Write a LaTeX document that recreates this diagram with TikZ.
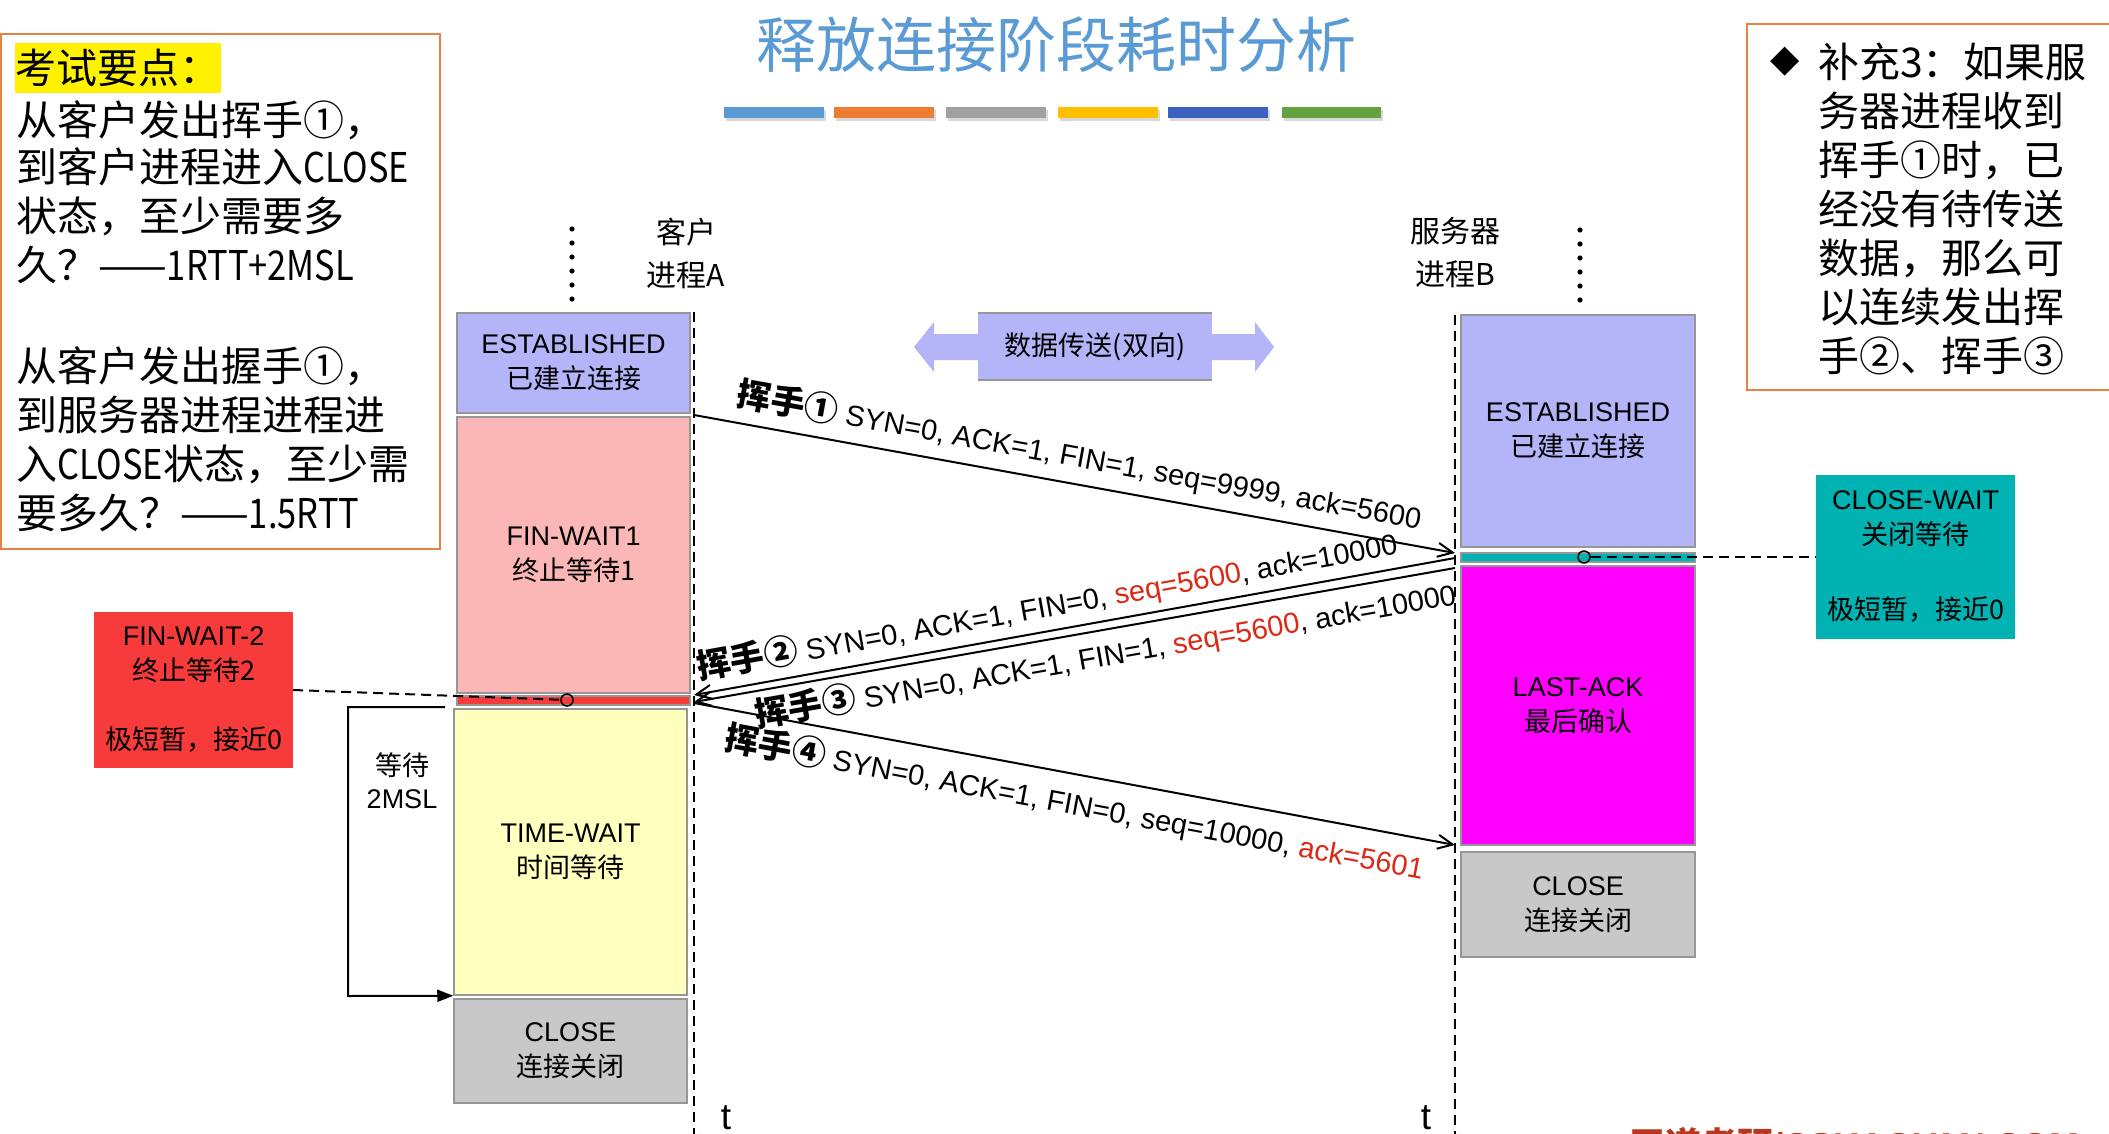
\documentclass[tikz,border=0pt]{standalone}
\usepackage{fontspec}
\setmainfont{Liberation Sans}
\newfontfamily\cjk{Noto Sans CJK SC}
\newfontfamily\symf{DejaVu Sans}
\usetikzlibrary{arrows.meta}
\definecolor{titleblue}{RGB}{91,155,213}
\definecolor{barA}{RGB}{91,155,213}
\definecolor{barB}{RGB}{237,125,49}
\definecolor{barC}{RGB}{160,160,160}
\definecolor{barD}{RGB}{255,192,0}
\definecolor{barE}{RGB}{58,98,192}
\definecolor{barF}{RGB}{98,163,64}
\definecolor{noteorange}{RGB}{230,130,70}
\definecolor{estab}{RGB}{180,180,248}
\definecolor{finwait}{RGB}{251,182,182}
\definecolor{timewait}{RGB}{255,255,190}
\definecolor{closegray}{RGB}{200,200,200}
\definecolor{lastack}{RGB}{255,0,255}
\definecolor{tealbox}{RGB}{0,178,178}
\definecolor{redbar}{RGB}{247,58,58}
\definecolor{msgred}{RGB}{220,40,20}
\definecolor{boxline}{RGB}{150,150,150}
\definecolor{wmred}{RGB}{185,55,30}
\newcommand\hwave[1]{{\cjk\bfseries\fontsize{34}{34}\selectfont 挥手#1}}
\newcommand\narrowlat[1]{\scalebox{0.84}[1]{#1}}
\begin{document}
\begin{tikzpicture}[x=1pt,y=-1pt,
  state/.style={draw=boxline, line width=1.5pt, inner sep=0pt, align=center, font=\fontsize{27}{35}\selectfont},
  timeline/.style={line width=2pt, dash pattern=on 10pt off 6pt, -{Straight Barb[length=6pt,width=12pt]}},
  msg/.style={line width=2pt, -{Straight Barb[length=15pt,width=14pt]}},
  lbl/.style={sloped, inner sep=0pt, font=\fontsize{29}{29}\selectfont},
  conn/.style={line width=2pt, dash pattern=on 10pt off 6pt},
  dotc/.style={circle, draw, line width=1.5pt, minimum size=12pt, inner sep=0pt},
  note/.style={anchor=west, inner sep=0pt, font=\cjk\fontsize{41}{41}\selectfont, text height=34pt, text depth=3pt},
  hdr/.style={align=center, inner sep=0pt, font=\cjk\fontsize{30}{43}\selectfont},
]
\useasboundingbox (0,0) rectangle (2109,1134);
\clip (0,0) rectangle (2109,1134);
\fill[white] (0,0) rectangle (2109,1134);

% title
\node[text=titleblue, font=\cjk\fontsize{60}{60}\selectfont, inner sep=0pt] (title) at (1056,45) {释放连接阶段耗时分析};
\foreach \xa/\xb/\c in {724/824/barA, 834/934/barB, 946/1046/barC, 1058/1158/barD, 1168/1268/barE, 1282/1381/barF} {
  \fill[black!15] (\xa+2,110) rectangle (\xb+2,121);
  \fill[\c] (\xa,107) rectangle (\xb,118);
}

% left note
\draw[noteorange, line width=2.5pt] (1,34) rectangle (440,549);
\node[fill=yellow, inner sep=0pt, minimum width=206pt, minimum height=50pt, font=\cjk\fontsize{41}{41}\selectfont] (kp) at (118,68) {考试要点：};
\foreach \n/\y/\t in {n1/120/{从客户发出挥手①，}, n2/167/{到客户进程进入\narrowlat{CLOSE}}, n3/216/{状态，至少需要多}, n4/265/{久？——\narrowlat{1RTT+2MSL}}, n5/366/{从客户发出握手①，}, n6/415/{到服务器进程进程进}, n7/464/{入\narrowlat{CLOSE}状态，至少需}, n8/513/{要多久？——\narrowlat{1.5RTT}}}
  \node[note] (\n) at (16,\y) {\t};

% right note
\draw[noteorange, line width=2.5pt] (1747,24) rectangle (2120,390);
\node[inner sep=0pt, font=\symf\fontsize{38}{38}\selectfont] (dia) at (1785,62) {◆};
\foreach \n/\y/\t in {r1/62/{补充3：如果服}, r2/111/{务器进程收到}, r3/160/{挥手①时，已}, r4/209/{经没有待传送}, r5/258/{数据，那么可}, r6/307/{以连续发出挥}, r7/356/{手②、挥手③}}
  \node[note] (\n) at (1818,\y) {\t};

% headers
\node[hdr] (hA) at (686,253) {客户\\进程A};
\node[hdr] (hB) at (1455,253) {服务器\\进程B};
\foreach \k in {0,...,5} {
  \fill (572,229+14*\k) circle (2.6);
  \fill (1580,230+14*\k) circle (2.6);
}

% timelines
\coordinate (cTop) at (694,312);
\coordinate (cBot) at (694,1142);
\coordinate (sTop) at (1455,315);
\coordinate (sBot) at (1455,1142);
\draw[timeline] (cTop) -- (cBot);
\draw[timeline] (sTop) -- (sBot);
\node[font=\fontsize{37}{37}\selectfont, anchor=base, inner sep=0pt] (tA) at (726,1129) {t};
\node[font=\fontsize{37}{37}\selectfont, anchor=base, inner sep=0pt] (tB) at (1426,1129) {t};

% client states
\node[state, fill=estab, minimum width=233pt, minimum height=100pt] (cEst) at (573.5,363) {ESTABLISHED\\{\cjk 已建立连接}};
\node[state, fill=finwait, minimum width=233pt, minimum height=276pt] (cFin) at (573.5,555) {FIN-WAIT1\\{\cjk 终止等待1}};
\node[state, fill=redbar, minimum width=233pt, minimum height=9pt] (cRed) at (573.5,700.5) {};
\node[state, fill=timewait, minimum width=233pt, minimum height=286pt] (cTime) at (570.5,852) {TIME-WAIT\\{\cjk 时间等待}};
\node[state, fill=closegray, minimum width=233pt, minimum height=104pt] (cClose) at (570.5,1051) {CLOSE\\{\cjk 连接关闭}};

% server states
\node[state, fill=estab, minimum width=234pt, minimum height=232pt] (sEst) at (1578,431) {ESTABLISHED\\{\cjk 已建立连接}};
\node[state, fill=tealbox, minimum width=234pt, minimum height=9pt] (sTeal) at (1578,557.5) {};
\node[state, fill=lastack, minimum width=234pt, minimum height=279pt] (sLast) at (1578,705.5) {LAST-ACK\\{\cjk 最后确认}};
\node[state, fill=closegray, minimum width=234pt, minimum height=105pt] (sClose) at (1578,904.5) {CLOSE\\{\cjk 连接关闭}};

% side boxes
\node[fill=redbar, inner sep=0pt, minimum width=199pt, minimum height=156pt, align=center, font=\fontsize{27}{35}\selectfont] (fw2) at (193.5,690) {FIN-WAIT-2\\{\cjk 终止等待2}\\[34pt]{\cjk 极短暂，接近0}};
\node[fill=tealbox, inner sep=0pt, minimum width=199pt, minimum height=164pt, align=center, font=\fontsize{27}{35}\selectfont] (cw) at (1915.5,557) {CLOSE-WAIT\\{\cjk 关闭等待}\\[40pt]{\cjk 极短暂，接近0}};
\node[dotc] (o1) at (567,700) {};
\node[dotc] (o2) at (1584,557) {};
\draw[conn] (fw2.east) -- (o1);
\draw[conn] (o2) -- (cw.west);

% 2MSL bracket
\coordinate (bk) at (445,707);
\draw[line width=2pt, -{Triangle[length=16pt,width=12pt]}] (bk) -- (348,707) -- (348,996) -- (cTime.south west);
\node[align=center, inner sep=0pt, font=\fontsize{27}{33}\selectfont] (w2) at (402,781) {{\cjk 等待}\\2MSL};

% data transfer
\fill[estab] (914,347) -- (934,322) -- (934,334) -- (1255,334) -- (1255,322) -- (1274,347) -- (1255,372) -- (1255,360) -- (934,360) -- (934,372) -- cycle;
\node[fill=estab, inner sep=0pt, minimum width=234pt, minimum height=67pt, font=\cjk\fontsize{27}{27}\selectfont] (dt) at (1095,346.5) {数据传送(双向)};
\draw[boxline, line width=2pt] (dt.north west) -- (dt.north east);
\draw[boxline, line width=2pt] (dt.south west) -- (dt.south east);

% messages
\coordinate (m1s) at (694,415);
\coordinate (m1e) at (1455,553);
\coordinate (m2s) at (1455,558);
\coordinate (m2e) at (694,695);
\coordinate (m3s) at (1455,568);
\coordinate (m3e) at (694,702);
\coordinate (m4s) at (694,703);
\coordinate (m4e) at (1455,845);
\draw[msg] (m1s) -- node[lbl, pos=0.5, above=10pt] (L1) {\hwave{①} SYN=0, ACK=1, FIN=1, seq=9999, ack=5600} (m1e);
\draw[msg] (m2s) -- node[lbl, pos=0.53, above=7pt] (L2) {\hwave{②} SYN=0, ACK=1, FIN=0, \textcolor{msgred}{seq=5600}, ack=10000} (m2e);
\draw[msg] (m3s) -- node[lbl, pos=0.465, below=6pt] (L3) {\hwave{③} SYN=0, ACK=1, FIN=1, \textcolor{msgred}{seq=5600}, ack=10000} (m3e);
\draw[msg] (m4s) -- node[lbl, pos=0.507, below=10pt] (L4) {\hwave{④} SYN=0, ACK=1, FIN=0, seq=10000, \textcolor{msgred}{ack=5601}} (m4e);

% bottom watermark (cut off)
\node[anchor=north west, inner sep=0pt, text=wmred, font=\bfseries\fontsize{36}{36}\selectfont] (wm) at (1629,1127) {{\cjk 王道考研}/CSKAOYAN.COM};
\end{tikzpicture}
\end{document}
